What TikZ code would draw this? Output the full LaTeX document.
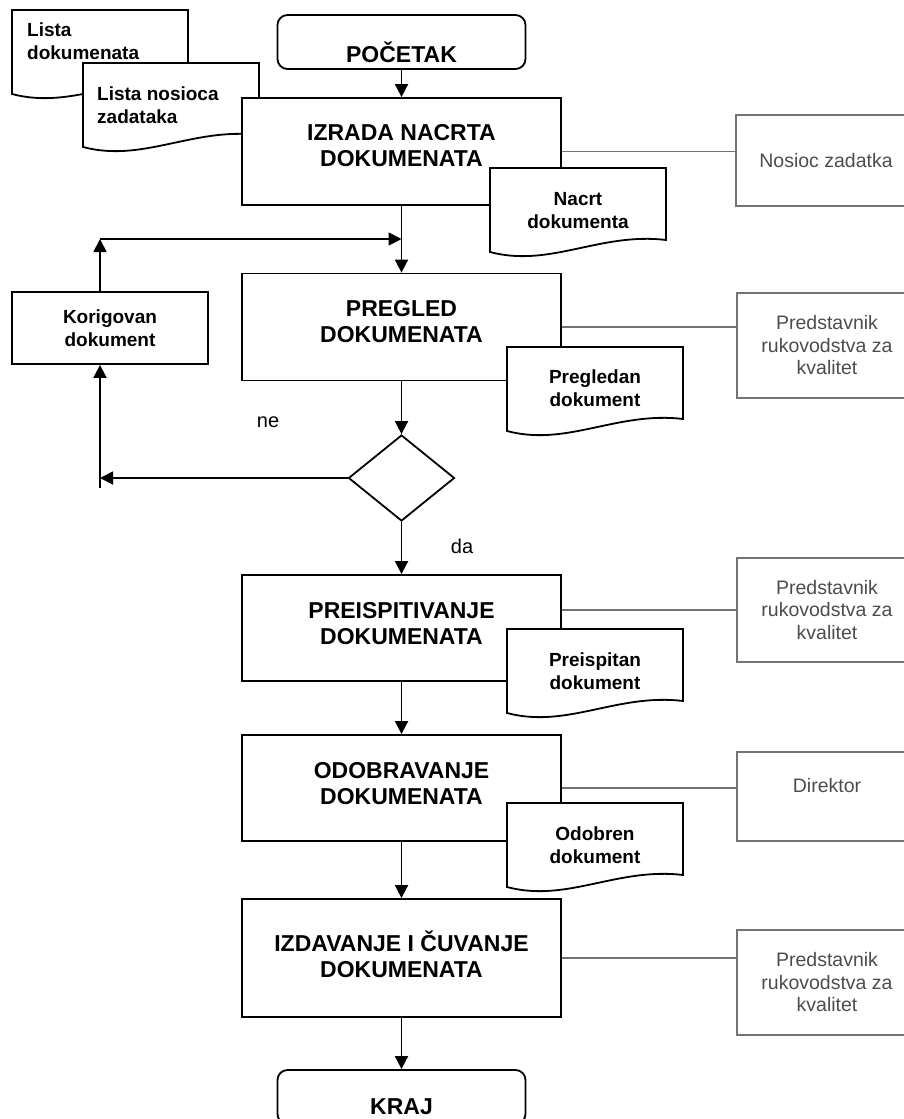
\documentclass[tikz,border=0pt]{standalone}
\usepackage{fontspec}
\setmainfont{Liberation Sans}
\usetikzlibrary{positioning,arrows.meta,shapes.geometric}

\definecolor{sivaLinija}{gray}{0.45}
\definecolor{sivaSlova}{gray}{0.3}

\tikzset{
  proces/.style={draw, line width=1.8pt, fill=white, minimum width=319pt, minimum height=107pt, inner sep=0pt},
  naslov/.style={align=center, inner sep=0pt, font=\fontsize{23}{26}\selectfont\bfseries},
  terminal/.style={draw, line width=1.8pt, rounded corners=10pt, fill=white, minimum width=248pt, minimum height=54pt, inner sep=0pt},
  dok/.style={draw, line width=1.8pt, fill=white},
  doktekst/.style={align=center, inner sep=0pt, font=\fontsize{19}{23}\selectfont\bfseries},
  uloga/.style={draw=sivaLinija, line width=1.2pt, minimum width=180pt, inner sep=0pt, text=sivaSlova, align=center, font=\fontsize{19.5}{22.5}\selectfont},
  veza/.style={draw=sivaLinija, line width=1.2pt},
  strelica/.style={line width=1.8pt, -{Triangle[width=13pt,length=13pt]}},
  oznaka/.style={inner sep=0pt, font=\fontsize{20}{24}\selectfont},
}

% dokument: gornji lijevi ugao (x,y), valovito dno
\newcommand{\dokument}[2]{%
  \path[dok] (#1,#2) -- (#1+176,#2) -- (#1+176,#2+72)
    .. controls (#1+110,#2+64) and (#1+60,#2+100) .. (#1,#2+84) -- cycle;}

\begin{document}
\begin{tikzpicture}[x=1pt, y=-1pt]
    \useasboundingbox (0,0) rectangle (903,1119);

    % Ulazni dokumenti
    \dokument{12}{10}
    \node[doktekst, align=left, anchor=west] (listaDok) at (27,41) {Lista\\dokumenata};
    \dokument{83}{63}
    \node[doktekst, align=left, anchor=west] (listaNos) at (97,105) {Lista nosioca\\zadataka};

    % Pocetak i izrada
    \node[terminal] (pocetak) at (401.5,42) {};
    \node[naslov] (pocetakT) at (401.5,52) {POČETAK};
    \node[proces] (izrada) at (401.5,151.5) {};
    \node[naslov] (izradaT) at (401.5,146) {IZRADA NACRTA\\DOKUMENATA};
    \dokument{490}{168}
    \node[doktekst] (nacrt) at (578,211) {Nacrt\\dokumenta};

    % Pregled
    \node[proces] (pregled) at (401.5,327) {};
    \node[naslov] (pregledT) at (401.5,322) {PREGLED\\DOKUMENATA};
    \dokument{507}{347}
    \node[doktekst] (pregledan) at (595,388) {Pregledan\\dokument};

    % Korekcija
    \node[proces, minimum width=196pt, minimum height=72pt, doktekst] (korig) at (110,328) {Korigovan\\dokument};
    \coordinate (petlja) at (100,239);
    \coordinate (povrat) at (100,478);
    \coordinate (dno) at (100,488);

    % Odluka
    \node[draw, diamond, line width=1.8pt, minimum width=106pt, minimum height=86pt, inner sep=0pt] (odluka) at (401.5,478) {};
    \node[oznaka] (ne) at (268,422) {ne};
    \node[oznaka] (da) at (462,546) {da};

    % Preispitivanje
    \node[proces, minimum height=106pt] (preisp) at (401.5,628) {};
    \node[naslov] (preispT) at (401.5,624) {PREISPITIVANJE\\DOKUMENATA};
    \dokument{507}{629}
    \node[doktekst] (preispitan) at (595,671) {Preispitan\\dokument};

    % Odobravanje
    \node[proces, minimum height=106pt] (odobr) at (401.5,788) {};
    \node[naslov] (odobrT) at (401.5,784) {ODOBRAVANJE\\DOKUMENATA};
    \dokument{507}{803}
    \node[doktekst] (odobren) at (595,845) {Odobren\\dokument};

    % Izdavanje i kraj
    \node[proces, minimum height=118pt] (izdav) at (401.5,958) {};
    \node[naslov] (izdavT) at (401.5,954) {IZDAVANJE I ČUVANJE\\DOKUMENATA};
    \node[terminal] (kraj) at (401.5,1097) {};
    \node[naslov] (krajT) at (401.5,1107) {KRAJ};

    % Odgovorni
    \node[uloga, minimum height=91pt] (nosioc) at (826,160.5) {Nosioc zadatka};
    \node[uloga, minimum height=105pt] (pred1) at (827,345.5) {Predstavnik\\rukovodstva za\\kvalitet};
    \node[uloga, minimum height=104pt] (pred2) at (827,610) {Predstavnik\\rukovodstva za\\kvalitet};
    \node[uloga, minimum height=89pt, text depth=22pt] (direktor) at (827,796.5) {Direktor};
    \node[uloga, minimum height=105pt] (pred3) at (827,982.5) {Predstavnik\\rukovodstva za\\kvalitet};

    \draw[veza] (izrada.east) -- (izrada.east -| nosioc.west);
    \draw[veza] (pregled.east) -- (pregled.east -| pred1.west);
    \draw[veza] (preisp.east |- pred2.west) -- (pred2.west);
    \draw[veza] (odobr.east) -- (odobr.east -| direktor.west);
    \draw[veza] (izdav.east) -- (izdav.east -| pred3.west);

    % Glavni tok
    \draw[strelica] (pocetak) -- (izrada);
    \draw[strelica] (izrada) -- (pregled);
    \draw[strelica] (pregled) -- (odluka);
    \draw[strelica] (odluka) -- (preisp);
    \draw[strelica] (preisp) -- (odobr);
    \draw[strelica] (odobr) -- (izdav);
    \draw[strelica] (izdav) -- (kraj);

    % Povratna petlja
    \draw[strelica] (odluka.west) -- (povrat);
    \draw[strelica] (dno) -- (korig.south -| dno);
    \draw[strelica] (korig.north -| petlja) -- (petlja);
    \draw[strelica] (petlja) -- (petlja -| izrada.south);
\end{tikzpicture}
\end{document}
